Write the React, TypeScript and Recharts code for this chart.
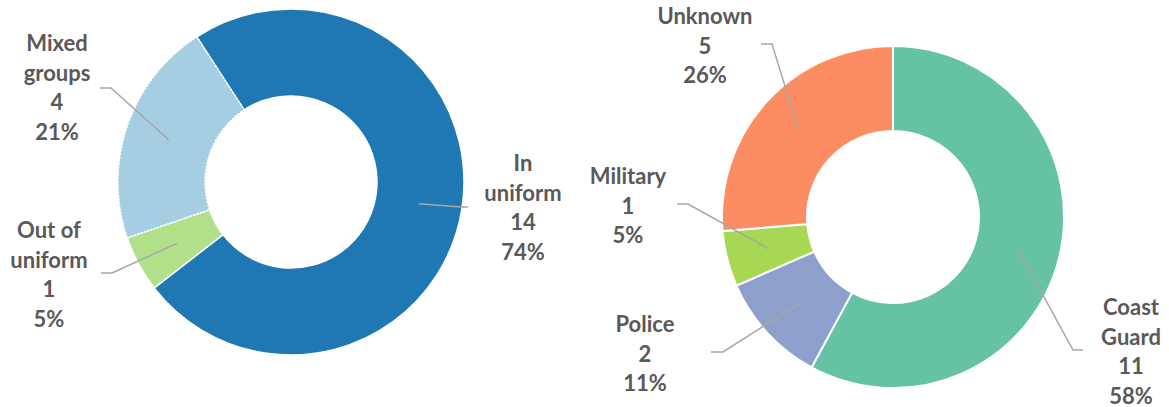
import { Cell, Pie, PieChart } from "recharts";

const RAD = Math.PI / 180;

// left donut: officers by appearance
const uniformCategories = ["In\nuniform", "Out of\nuniform", "Mixed\ngroups"];
const uniformValues = [14, 1, 4];
const uniformColors = ["#1F78B4", "#B2DF8A", "#A6CEE3"];

// right donut: agency
const agencyCategories = ["Coast\nGuard", "Police", "Military", "Unknown"];
const agencyValues = [11, 2, 1, 5];
const agencyColors = ["#66C2A5", "#8DA0CB", "#A6D854", "#FC8D62"];

const uniformData = uniformCategories.map((name, i) => ({ name, value: uniformValues[i] }));
const agencyData = agencyCategories.map((name, i) => ({ name, value: agencyValues[i] }));

// label placement: text centre x, first baseline, elbow and end of leader line
type LabelPos = { tx: number; ty: number; bx: number; by: number; ex: number; ey: number };

const uniformLabelPos: LabelPos[] = [
  { tx: 523, ty: 171, bx: 461, by: 207, ex: 468, ey: 207 },
  { tx: 49, ty: 238, bx: 112, by: 273, ex: 101, ey: 273 },
  { tx: 57, ty: 51, bx: 111, by: 88, ex: 100, ey: 88 },
];

const agencyLabelPos: LabelPos[] = [
  { tx: 1131, ty: 315, bx: 1073, by: 350, ex: 1083, ey: 350 },
  { tx: 645, ty: 332, bx: 723, by: 352, ex: 711, ey: 352 },
  { tx: 628, ty: 184, bx: 688, by: 204, ex: 677, ey: 204 },
  { tx: 705, ty: 24, bx: 772, by: 44, ex: 761, ey: 44 },
];

const LINE_H = 29.5;

const makeLabel = (pos: LabelPos[]) => (props: any) => {
  const { cx, cy, midAngle, innerRadius, outerRadius, index, name, percent, value } = props;
  const p = pos[index];
  const r = (innerRadius + outerRadius) / 2;
  const sx = cx + r * Math.cos(-midAngle * RAD);
  const sy = cy + r * Math.sin(-midAngle * RAD);
  const lines = [...String(name).split("\n"), String(value), `${Math.round(percent * 100)}%`];
  return (
    <g>
      <polyline
        points={`${sx},${sy} ${p.bx},${p.by} ${p.ex},${p.ey}`}
        fill="none"
        stroke="#A6A6A6"
        strokeWidth={1.5}
      />
      <text
        x={p.tx}
        y={p.ty}
        textAnchor="middle"
        fill="#595959"
        fontFamily="Lato, 'Open Sans', sans-serif"
        fontWeight="bold"
        fontSize={22}
      >
        {lines.map((l, i) => (
          <tspan key={i} x={p.tx} y={p.ty + i * LINE_H}>
            {l}
          </tspan>
        ))}
      </text>
    </g>
  );
};

const App = () => {
  return (
    <div style={{ position: "absolute", left: 0, top: 0 }}>
      <PieChart width={1169} height={407} margin={{ top: 0, right: 0, bottom: 0, left: 0 }}>
        <Pie
          data={uniformData}
          dataKey="value"
          nameKey="name"
          cx={291}
          cy={182}
          innerRadius={86}
          outerRadius={173}
          startAngle={123}
          endAngle={-237}
          stroke="#FFFFFF"
          strokeWidth={1.5}
          label={makeLabel(uniformLabelPos)}
          labelLine={false}
          isAnimationActive={false}
        >
          {uniformData.map((d, i) => (
            <Cell
              key={d.name}
              fill={uniformColors[i]}
              strokeDasharray={i === 2 ? "2 1.5" : undefined}
            />
          ))}
        </Pie>
        <Pie
          data={agencyData}
          dataKey="value"
          nameKey="name"
          cx={893}
          cy={217}
          innerRadius={86}
          outerRadius={171}
          startAngle={90}
          endAngle={-270}
          stroke="#FFFFFF"
          strokeWidth={2}
          label={makeLabel(agencyLabelPos)}
          labelLine={false}
          isAnimationActive={false}
        >
          {agencyData.map((d, i) => (
            <Cell key={d.name} fill={agencyColors[i]} />
          ))}
        </Pie>
      </PieChart>
    </div>
  );
};

export default App;
